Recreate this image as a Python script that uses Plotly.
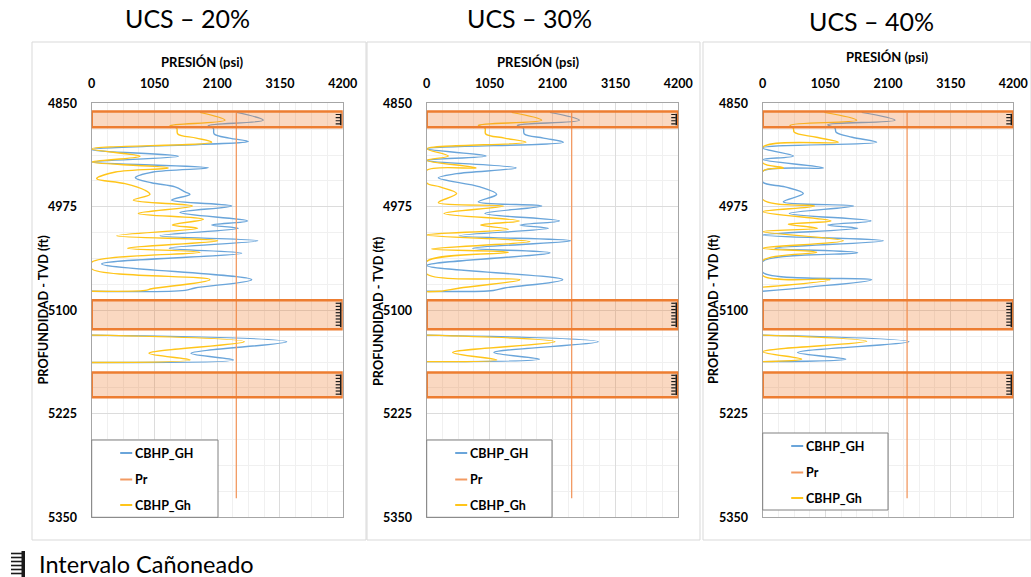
import plotly.graph_objects as go

W, H = 1031, 577

PANEL_TITLES = ["UCS – 20%", "UCS – 30%", "UCS – 40%"]
X_TICK0, X_DTICK = 0, 1050
Y_TICK0, Y_DTICK = 4850, 125
X_RANGE = [0, 4200]
Y_RANGE = [5350, 4850]

PR_PSI = 2420
PR_DEPTH = [4861, 5327]

PERF_TOP = [4860, 5088, 5175]
PERF_BOTTOM = [4879, 5123, 5205]

# ---- UCS 20% ----
GH20_DEPTH = [4861, 4870.5, 4877, 4880, 4887, 4892, 4896, 4906, 4914, 4921, 4928, 4933, 4940, 4946,
              4951, 4957, 4960, 4967, 4974, 4982, 4992, 4997, 5001, 5010, 5016, 5025, 5031, 5044,
              5063, 5073, 5076, 5077, None, 5130, 5138, 5152, 5160, 5163]
GH20_PSI = [2426, 2871, 1951, 2035, 2050, 2300, 2620, 0, 1450, 0, 1951, 1030, 730, 1000,
            1394, 1561, 1645, 1338, 2342, 1477, 2604, 2007, 2453, 1143, 2777, 1299, 2509, 167,
            2677, 1728, 1561, 0, None, 0, 3262, 1661, 2370, 0]
GHL20_DEPTH = [4861, 4870.5, 4877, 4880, 4887, 4892, 4897, 4905, 4914, 4921, 4928, 4933, 4941, 4947,
               4955, 4960, 4967, 4974, 4983, 4990, 4997, 5001, 5010, 5016, 5025, 5030, 5042, 5050,
               5063, 5074, 5076, 5077, None, 5130, 5138, 5152, 5160, 5163]
GHL20_PSI = [1812, 2230, 1310, 1422, 1440, 1750, 2007, 0, 808, 0, 1282, 400, 83, 557,
             892, 975, 697, 1684, 780, 1868, 1349, 1773, 418, 2108, 602, 1812, 0, 0,
             1979, 1003, 892, 0, None, 0, 2554, 959, 1645, 0]

# ---- UCS 30% ----
GH30_DEPTH = [4861, 4870.5, 4876.6, 4880, 4887, 4892, 4897, 4905, 4913.6, 4919, 4928, 4935, 4940,
              4951, 4960, 4969, 4974, 4983, 4992, 4997, 5001, 5010, 5016, 5025, 5030.5, 5046,
              5063, 5073, 5076, 5077, None, 5130, 5138, 5151, 5159, 5162]
GH30_PSI = [2058, 2548, 1513, 1613, 1630, 1950, 2281, 0, 990, 0, 1490, 500, 194,
            890, 1168, 862, 1919, 973, 2214, 1557, 2030, 545, 2403, 767, 2058, 0,
            2270, 1300, 1112, 0, None, 0, 2865, 1123, 1880, 0]
GHL30_DEPTH = [4861, 4870.5, 4876.6, 4880, 4887, 4892, 4897, 4905, 4913.6, 4919, 4928, 4931, 4946,
               4951, 4959, 4970, 4974, 4983, 4992, 4997, 5002, 5009, 5017, 5026, 5030, 5041, 5056,
               5063, 5073, 5077, 5077.5, None, 5130, 5138, 5151, 5160, 5162]
GHL30_PSI = [1418, 1919, 862, 973, 985, 1300, 1657, 0, 361, 0, 823, 0, 0,
             222, 500, 194, 1279, 289, 1546, 901, 1363, 0, 1724, 83, 1363, 0, 0,
             1557, 556, 222, 0, None, 0, 2142, 433, 1168, 0]

# ---- UCS 40% ----
GH40_DEPTH = [4861, 4870.5, 4876, 4880, 4885, 4891, 4897, 4904, 4913.6, 4918, 4928, 4932, 4945,
              4951, 4959, 4969, 4974, 4983, 4992, 4997, 5001, 5009, 5016, 5025, 5030.5, 5041, 5054,
              5063, 5072, 5077, None, 5130, 5138, 5151, 5159, 5162]
GH40_PSI = [1659, 2217, 1089, 1212, 1230, 1500, 1910, 0, 513, 0, 1016, 0, 0,
            374, 681, 346, 1519, 446, 1815, 1089, 1592, 0, 2022, 206, 1592, 0, 0,
            1826, 765, 0, None, 0, 2452, 586, 1391, 0]
GHL40_DEPTH = [4861, 4870.5, 4876.6, 4880, 4885, 4891, 4897, 4903, 4922, 4928, 4932, 4966, 4974,
               4981, 4992, 4996, 5001, 5005, 5016, 5025, 5030, 5040, 5058, 5063, 5072, None,
               5130, 5137.5, 5150, 5159, 5162]
GHL40_PSI = [1033, 1575, 458, 513, 530, 900, 1268, 0, 0, 346, 0, 0, 866,
             0, 1145, 430, 921, 0, 1352, 0, 905, 0, 0, 1128, 0, None,
             0, 1743, 0, 653, 0]

PANELS = [
    (GH20_DEPTH, GH20_PSI, GHL20_DEPTH, GHL20_PSI),
    (GH30_DEPTH, GH30_PSI, GHL30_DEPTH, GHL30_PSI),
    (GH40_DEPTH, GH40_PSI, GHL40_DEPTH, GHL40_PSI),
]

BLUE = "#6AA5DA"
YELLOW = "#FFC51A"
ORANGE = "#ED7D31"
PR_COLOR = "#F29A62"
FONT = "Lato"

# pixel layout helpers (figure margins are zero, so paper == page)
def PX(x):
    return x / W

def PY(y):
    return 1 - y / H

X_DOM = [(91.7, 342.7), (426.7, 678.3), (762.7, 1013.3)]
Y_DOM = (103.3, 517.3)
CARDS = [(32, 42, 366, 540), (367, 42, 700, 540), (703, 42, 1031, 540)]
TITLE_POS = [(187, 18), (529, 18), (871, 21)]
XTITLE_POS = [(202, 62), (538, 62), (887, 57)]
YTITLE_POS = [(42.5, 310), (378, 311), (713, 309)]
LEGEND_BOX = [(91.7, 440, 218, 517.3), (426.7, 440, 552, 517.3), (762.7, 433, 888, 510)]

fig = go.Figure()
shapes = []
annotations = []

for i, (gd, gp, ld, lp) in enumerate(PANELS):
    n = "" if i == 0 else str(i + 1)
    xa, ya = "x" + n, "y" + n
    fig.add_trace(go.Scatter(x=gp, y=gd, mode="lines", name="CBHP_GH", xaxis=xa, yaxis=ya,
                             line=dict(color=BLUE, width=1.4, shape="spline", smoothing=1.0),
                             showlegend=False, connectgaps=False))
    fig.add_trace(go.Scatter(x=[PR_PSI, PR_PSI], y=PR_DEPTH, mode="lines", name="Pr", xaxis=xa, yaxis=ya,
                             line=dict(color=PR_COLOR, width=1.3), showlegend=False))
    fig.add_trace(go.Scatter(x=lp, y=ld, mode="lines", name="CBHP_Gh", xaxis=xa, yaxis=ya,
                             line=dict(color=YELLOW, width=1.4, shape="spline", smoothing=1.0),
                             showlegend=False, connectgaps=False))

    x0, x1 = X_DOM[i]
    axis_common = dict(showline=True, mirror=True, linecolor="#A6A6A6", linewidth=1.2,
                       showgrid=True, gridcolor="#DCDCDC", gridwidth=1, zeroline=False,
                       automargin=False,
                       ticks="outside", tickcolor="rgba(0,0,0,0)",
                       tickfont=dict(family=FONT, size=12.5, color="#000000", weight="bold"))
    fig.update_layout(**{
        "xaxis" + n: dict(domain=[PX(x0), PX(x1)], anchor=ya, side="top", range=X_RANGE,
                          tick0=X_TICK0, dtick=X_DTICK, ticklen=9,
                          minor=dict(dtick=X_DTICK / 4, tick0=X_TICK0, showgrid=True,
                                     gridcolor="#F0F0F0", ticks=""),
                          **axis_common),
        "yaxis" + n: dict(domain=[PY(Y_DOM[1]), PY(Y_DOM[0])], anchor=xa, range=Y_RANGE,
                          tick0=Y_TICK0, dtick=Y_DTICK, ticklen=11,
                          minor=dict(dtick=Y_DTICK / 4, tick0=Y_TICK0, showgrid=True,
                                     gridcolor="#F0F0F0", ticks=""),
                          **axis_common),
    })

    # card
    cx0, cy0, cx1, cy1 = CARDS[i]
    shapes.append(dict(type="rect", xref="paper", yref="paper", x0=PX(cx0), x1=PX(cx1),
                       y0=PY(cy1), y1=PY(cy0), fillcolor="white",
                       line=dict(color="#D9D9D9", width=1), layer="below"))

    # perforated intervals
    for top, bot in zip(PERF_TOP, PERF_BOTTOM):
        shapes.append(dict(type="rect", xref=xa, yref=ya, x0=X_RANGE[0], x1=X_RANGE[1],
                           y0=top, y1=bot, fillcolor="rgba(237,125,49,0.30)",
                           line=dict(color=ORANGE, width=2.5), layer="above"))
        shapes.append(dict(type="rect", xref=xa + " domain", yref=ya, x0=0.989, x1=0.995,
                           y0=top + 2.5, y1=bot - 2.5, fillcolor="#1a1a1a",
                           line=dict(width=0), layer="above"))
        d = top + 3.5
        while d < bot - 2.5:
            shapes.append(dict(type="line", xref=xa + " domain", yref=ya, x0=0.972, x1=0.99,
                               y0=d, y1=d, line=dict(color="#1a1a1a", width=1.2), layer="above"))
            d += 3.8

    # legend box
    lx0, ly0, lx1, ly1 = LEGEND_BOX[i]
    shapes.append(dict(type="rect", xref="paper", yref="paper", x0=PX(lx0), x1=PX(lx1),
                       y0=PY(ly1), y1=PY(ly0), fillcolor="white",
                       line=dict(color="#808080", width=1), layer="above"))
    for (lab, col), dy in zip([("CBHP_GH", BLUE), ("Pr", PR_COLOR), ("CBHP_Gh", YELLOW)], [13, 39.5, 65]):
        shapes.append(dict(type="line", xref="paper", yref="paper", x0=PX(lx0 + 28.5), x1=PX(lx0 + 40.5),
                           y0=PY(ly0 + dy), y1=PY(ly0 + dy), line=dict(color=col, width=2), layer="above"))
        annotations.append(dict(text=lab, xref="paper", yref="paper", x=PX(lx0 + 41.5), y=PY(ly0 + dy),
                                xanchor="left", yanchor="middle", showarrow=False,
                                font=dict(family=FONT, size=12.5, color="#000000", weight="bold")))

    # texts
    tx, ty = TITLE_POS[i]
    annotations.append(dict(text=PANEL_TITLES[i], xref="paper", yref="paper", x=PX(tx), y=PY(ty),
                            xanchor="center", yanchor="middle", showarrow=False,
                            font=dict(family=FONT, size=25, color="#000000")))
    tx, ty = XTITLE_POS[i]
    annotations.append(dict(text="PRESIÓN (psi)", xref="paper", yref="paper", x=PX(tx), y=PY(ty),
                            xanchor="center", yanchor="middle", showarrow=False,
                            font=dict(family=FONT, size=13, color="#000000", weight="bold")))
    tx, ty = YTITLE_POS[i]
    annotations.append(dict(text="PROFUNDIDAD - TVD (ft)", xref="paper", yref="paper", x=PX(tx), y=PY(ty),
                            xanchor="center", yanchor="middle", showarrow=False, textangle=-90,
                            font=dict(family=FONT, size=12.7, color="#000000", weight="bold")))

# bottom legend: perforation icon + label
shapes.append(dict(type="rect", xref="paper", yref="paper", x0=PX(21.5), x1=PX(25),
                   y0=PY(577), y1=PY(551), fillcolor="#1a1a1a", line=dict(width=0)))
yy = 553.5
while yy < 577:
    shapes.append(dict(type="line", xref="paper", yref="paper", x0=PX(11), x1=PX(22),
                       y0=PY(yy), y1=PY(yy), line=dict(color="#1a1a1a", width=1.6)))
    yy += 4
annotations.append(dict(text="Intervalo Cañoneado", xref="paper", yref="paper", x=PX(37), y=PY(564),
                        xanchor="left", yanchor="middle", showarrow=False,
                        font=dict(family=FONT, size=23.5, color="#000000")))

fig.update_layout(width=W, height=H, margin=dict(l=0, r=0, t=0, b=0, autoexpand=False),
                  paper_bgcolor="white", plot_bgcolor="white",
                  shapes=shapes, annotations=annotations, showlegend=False)

fig.write_html("out.html", config={"displayModeBar": False},
               post_script="document.body.style.margin='0';document.body.style.overflow='hidden';")
